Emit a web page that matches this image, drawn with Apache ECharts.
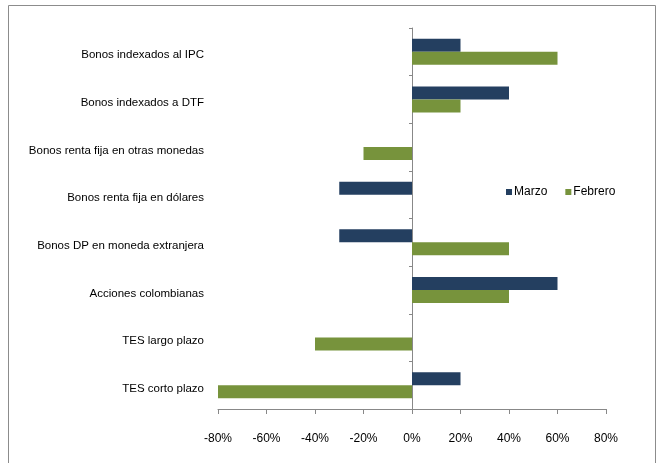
<!DOCTYPE html>
<html><head><meta charset="utf-8">
<script src="https://cdn.jsdelivr.net/npm/echarts@6/dist/echarts.min.js"></script>
<style>html,body{margin:0;padding:0;background:#fff}#c{width:661px;height:463px}</style>
</head><body><div id="c"></div>
<script>
const categories = ["Bonos indexados al IPC","Bonos indexados a DTF","Bonos renta fija en otras monedas","Bonos renta fija en dólares","Bonos DP en moneda extranjera","Acciones colombianas","TES largo plazo","TES corto plazo"];
const marzo = [20, 40, 0, -30, -30, 60, 0, 20];
const febrero = [60, 20, -20, 0, 40, 40, -40, -80];
const xTicks = {min: -80, max: 80, interval: 20};

const font = '"Liberation Sans", Arial, sans-serif';
const chart = echarts.init(document.getElementById('c'));
chart.setOption({
  animation: false,
  graphic: [{type:'rect', shape:{x:8.5,y:5.5,width:647,height:460}, style:{fill:'none', stroke:'#8c8c8c', lineWidth:1}}],
  grid: {left: 218, right: 55, top: 28, bottom: 54, containLabel: false},
  legend: {
    data: ['Marzo','Febrero'], left: 501, top: 181, itemWidth: 6, itemHeight: 6, itemGap: 18,
    icon: 'rect', itemStyle: {borderWidth: 0},
    textStyle: {fontFamily: font, fontSize: 12, color: '#000', padding:[0,0,0,-3]}
  },
  xAxis: {
    type: 'value', min: xTicks.min, max: xTicks.max, interval: xTicks.interval,
    axisLine: {show: true, onZero: false, lineStyle: {color: '#888'}},
    axisTick: {show: true, length: 5, lineStyle: {color: '#888'}},
    splitLine: {show: false},
    axisLabel: {formatter: v => v + '%', fontFamily: font, fontSize: 12, color: '#000', margin: 24}
  },
  yAxis: [{
    type: 'category', data: categories, inverse: true,
    axisLine: {show: false}, axisTick: {show: false},
    axisLabel: {fontFamily: font, fontSize: 11.5, color: '#000', margin: 14, verticalAlign: 'top', lineHeight: 7}
  },{
    type: 'category', data: categories, inverse: true, position: 'left', offset: -194,
    axisLine: {show: true, onZero: false, lineStyle: {color: '#888'}},
    axisTick: {show: true, length: 3, lineStyle: {color: '#888'}},
    axisLabel: {show: false}
  }],
  series: [
    {name: 'Marzo', type: 'bar', data: marzo, barWidth: 13, barGap: '0%',
     itemStyle: {color: '#243F60', borderWidth: 0}},
    {name: 'Febrero', type: 'bar', data: febrero, barWidth: 13, barGap: '0%',
     itemStyle: {color: '#77933C', borderWidth: 0}}
  ]
});
</script></body></html>
